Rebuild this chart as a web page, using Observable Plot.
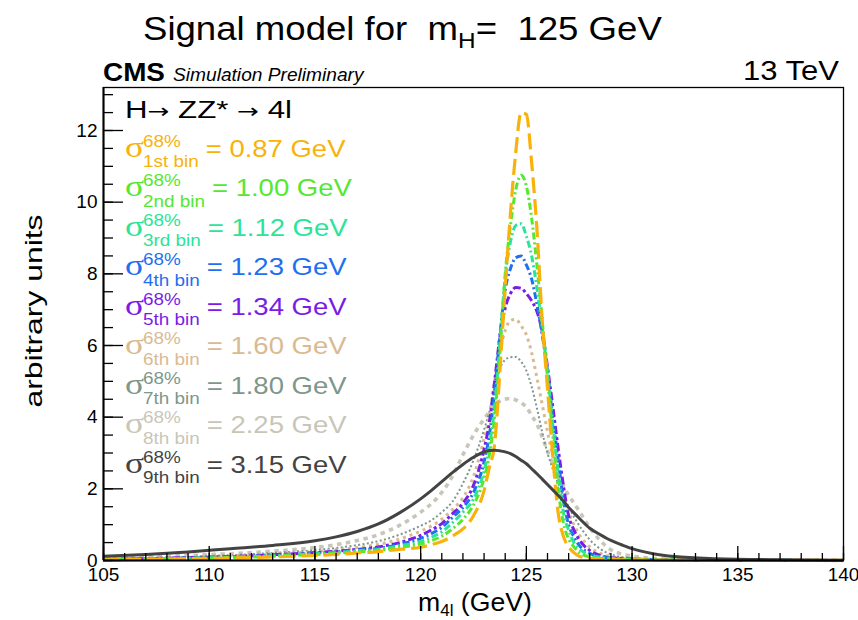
<!DOCTYPE html>
<html><head><meta charset="utf-8">
<script src="https://cdn.jsdelivr.net/npm/d3@7"></script>
<script src="https://cdn.jsdelivr.net/npm/@observablehq/plot@0.6"></script>
<style>
body{margin:0;background:#fff;}
text{white-space:pre;}
</style>
</head><body><div id="chart"></div>
<script>
// ---- data ----
const massGrid = [105, 107, 109, 111, 113, 115, 116, 117, 118, 119, 120, 120.5, 121, 121.5, 122, 122.5, 123, 123.25, 123.5, 123.75, 124, 124.25, 124.5, 124.75, 125, 125.25, 125.5, 125.75, 126, 126.25, 126.5, 126.75, 127, 127.25, 127.5, 128, 128.5, 129, 129.5, 130, 131, 132, 134, 137, 140];

const bin1 = [0.02,0.03,0.05,0.07,0.10, 0.14,0.17,0.21,0.25,0.31, 0.37,0.44,0.53,0.68,0.88, 1.25,1.95,2.60,3.25,5.30, 7.60,9.70,11.40,12.50,12.45, 11.10,9.25,6.70,4.80,2.90, 1.35,0.68,0.38,0.22,0.12, 0.06,0.04,0.03,0.02,0.02, 0.01,0.01,0.005,0.003,0.002];
const bin2 = [0.02,0.04,0.06,0.08,0.12, 0.17,0.20,0.24,0.28,0.36, 0.46,0.55,0.68,0.88,1.15, 1.55,2.30,2.95,4.00,5.80, 8.00,9.35,10.35,10.75,10.45, 9.55,8.25,6.70,5.10,3.50, 2.00,1.05,0.60,0.38,0.22, 0.10,0.06,0.04,0.03,0.02, 0.015,0.01,0.006,0.003,0.002];
const bin3 = [0.03,0.04,0.06,0.09,0.13, 0.19,0.22,0.27,0.31,0.41, 0.53,0.65,0.80,1.05,1.35, 1.72,2.50,3.20,4.30,6.10, 7.90,8.90,9.35,9.40,9.05, 8.50,7.60,6.50,5.25,3.80, 2.50,1.35,0.85,0.50,0.33, 0.16,0.09,0.06,0.04,0.03, 0.02,0.013,0.008,0.004,0.002];
const bin4 = [0.03,0.05,0.07,0.10,0.14, 0.20,0.24,0.29,0.34,0.45, 0.62,0.75,0.92,1.20,1.48, 1.90,2.75,3.50,4.70,6.30, 7.55,8.15,8.45,8.50,8.25, 7.85,7.15,6.30,5.30,4.00, 2.85,1.70,1.00,0.66,0.42, 0.20,0.11,0.07,0.05,0.035, 0.02,0.015,0.008,0.004,0.002];
const bin5 = [0.03,0.05,0.08,0.11,0.16, 0.22,0.26,0.31,0.38,0.50, 0.70,0.85,1.03,1.30,1.60, 2.10,3.10,3.85,5.00,6.25, 7.05,7.45,7.62,7.60,7.45, 7.25,6.95,6.40,5.40,4.30, 3.15,2.10,1.25,0.85,0.58, 0.28,0.14,0.08,0.055,0.04, 0.025,0.016,0.009,0.004,0.002];
const bin6 = [0.04,0.06,0.09,0.13,0.18, 0.25,0.30,0.36,0.45,0.60, 0.82,0.96,1.15,1.42,1.75, 2.35,3.40,4.05,5.00,5.85, 6.42,6.70,6.73,6.55,6.30, 5.80,5.10,4.35,3.60,2.90, 2.30,1.75,1.35,1.00,0.72, 0.38,0.20,0.11,0.07,0.05, 0.03,0.02,0.01,0.005,0.003];
const bin7 = [0.05,0.07,0.10,0.15,0.21, 0.29,0.35,0.43,0.54,0.72, 0.97,1.12,1.35,1.64,2.15, 2.80,3.65,4.15,4.80,5.35, 5.60,5.67,5.68,5.55,5.30, 4.85,4.25,3.58,3.00,2.55, 2.15,1.80,1.50,1.22,0.98, 0.58,0.32,0.17,0.10,0.07, 0.04,0.025,0.012,0.006,0.003];
const bin8 = [0.07,0.10,0.14,0.19,0.26, 0.36,0.44,0.56,0.72,0.98, 1.35,1.58,1.90,2.35,2.95, 3.50,3.95,4.15,4.35,4.45, 4.50,4.52,4.48,4.40,4.28, 4.05,3.80,3.45,3.05,2.70, 2.40,2.10,1.82,1.60,1.38, 0.92,0.55,0.30,0.18,0.12, 0.06,0.035,0.015,0.008,0.004];
const bin9 = [0.12,0.17,0.24,0.33,0.42, 0.55,0.66,0.81,1.02,1.33, 1.72,1.95,2.20,2.45,2.68, 2.88,3.03,3.07,3.08,3.06, 3.03,2.98,2.90,2.80,2.70, 2.56,2.42,2.27,2.12,1.97, 1.82,1.66,1.48,1.33,1.18, 0.90,0.72,0.56,0.44,0.33, 0.19,0.11,0.05,0.02,0.01];

const binNames = ["1st bin", "2nd bin", "3rd bin", "4th bin", "5th bin", "6th bin", "7th bin", "8th bin", "9th bin"];
const sigmaValues = ["0.87", "1.00", "1.12", "1.23", "1.34", "1.60", "1.80", "2.25", "3.15"];
const binColors = ["#F8B20A", "#55E82E", "#2AE597", "#1F6FF0", "#7A1CE6", "#D9BA92", "#7C978B", "#C8C6B8", "#434343"];
const binDashes = ["16,6", "7,3,2,3", "7,3,2,3", "7,3,2,3", "8,3,3,3", "3,4", "2,2.4", "4.5,4.5", null];
const binWidths = [3.2, 3, 3, 3, 3, 3, 2, 3.6, 3];
const xMajor = [105, 110, 115, 120, 125, 130, 135, 140];
const yMajor = [0, 2, 4, 6, 8, 10, 12];

const series = [bin1, bin2, bin3, bin4, bin5, bin6, bin7, bin8, bin9];
const rows = [];
series.forEach((s, b) => massGrid.forEach((m, j) => rows.push({bin: b, m, v: s[j]})));
const drawOrder = [7, 6, 5, 4, 3, 2, 1, 0, 8];

const W = 858, H = 620, ML = 103, MR = 15, MT = 87, MB = 60;
const FW = W - ML - MR, FH = H - MT - MB;
const xMinor = d3.range(105, 141, 1);
const yMinor = d3.range(0, 13.01, 0.5);

const chart = Plot.plot({
  width: W, height: H,
  marginLeft: ML, marginRight: MR, marginTop: MT, marginBottom: MB,
  style: {fontFamily: "'Liberation Sans', Arial, sans-serif", background: "#fff", overflow: "visible"},
  x: {domain: [105, 140], label: null},
  y: {domain: [0, 13.2], label: null},
  marks: [
    ...drawOrder.map(b => Plot.line(rows.filter(r => r.bin === b), {
      x: "m", y: "v", curve: "monotone-x",
      stroke: binColors[b], strokeWidth: binWidths[b],
      strokeDasharray: binDashes[b] || undefined,
      strokeLinecap: "butt"
    })),
    Plot.frame({stroke: "#000", strokeWidth: 1.3}),
    Plot.ruleX([105], {stroke: "#000", strokeWidth: 2}),
    Plot.ruleY([0], {stroke: "#000", strokeWidth: 2}),
    Plot.tickX(xMinor, {x: d => d, insetTop: FH - 7, stroke: "#000", strokeWidth: 1.3}),
    Plot.tickX(xMajor, {x: d => d, insetTop: FH - 14, stroke: "#000", strokeWidth: 1.3}),
    Plot.tickY(yMinor, {y: d => d, insetRight: FW - 10, stroke: "#000", strokeWidth: 1.3}),
    Plot.tickY(yMajor, {y: d => d, insetRight: FW - 20, stroke: "#000", strokeWidth: 1.3}),
    Plot.axisX({ticks: xMajor, tickSize: 0, tickPadding: 7, fontSize: 19, label: null, tickFormat: d => String(d)}),
    Plot.axisY({ticks: yMajor, tickSize: 0, tickPadding: 6, fontSize: 19, label: null, tickFormat: d => String(d)})
  ]
});
document.getElementById("chart").appendChild(chart);

// ---- texts ----
const svg = d3.select(chart);
const SANS = "'Liberation Sans', Arial, sans-serif";
const SERIF = "'Liberation Serif', 'Times New Roman', serif";

function fit(sel, x0, x1) {
  const w = sel.node().getBBox().width;
  const k = (x1 - x0) / w;
  sel.attr("transform", `translate(${x0},0) scale(${k},1) translate(${-x0},0)`);
}
function txt(parent, str, x, y, size, opts = {}) {
  const t = parent.append("text").attr("x", x).attr("y", y)
    .attr("text-anchor", "start")
    .attr("font-family", opts.family || SANS).attr("font-size", size)
    .attr("fill", opts.fill || "#000").text(str);
  if (opts.weight) t.attr("font-weight", opts.weight);
  if (opts.style) t.attr("font-style", opts.style);
  return t;
}

// Title
const title = svg.append("text").attr("x", 143).attr("y", 40).attr("text-anchor", "start")
  .attr("font-family", SANS).attr("font-size", 33).attr("fill", "#000");
title.append("tspan").text("Signal model for  m");
title.append("tspan").attr("font-size", 22).attr("dy", 8).text("H");
title.append("tspan").attr("dy", -8).text("=  125 GeV");
fit(title, 143, 662);

fit(txt(svg, "CMS", 103, 81, 25, {weight: "bold"}), 103, 165);
fit(txt(svg, "Simulation Preliminary", 173, 81, 17.5, {style: "italic"}), 173, 365);
fit(txt(svg, "13 TeV", 743, 80, 27), 743, 839);

const proc = svg.append("text").attr("x", 125).attr("y", 118).attr("text-anchor", "start")
  .attr("font-family", SANS).attr("font-size", 24).attr("fill", "#000");
proc.append("tspan").text("H");
proc.append("tspan").attr("font-family", "'DejaVu Sans', sans-serif").attr("font-size", 20).text("\u2192");
proc.append("tspan").text(" ZZ* ");
proc.append("tspan").attr("font-family", "'DejaVu Sans', sans-serif").attr("font-size", 20).text("\u2192");
proc.append("tspan").text(" 4l");
fit(proc, 125, 292);

// Legend
const lg = svg.append("g").attr("transform", "translate(125,0) scale(1.18,1)");
binNames.forEach((name, i) => {
  const yb = 157 + 39.5 * i;
  const c = binColors[i];
  txt(lg, "\u03C3", 0, yb, 30, {family: SERIF, fill: c});
  const sup = txt(lg, "68%", 15.3, yb - 10, 16, {fill: c});
  const sub = txt(lg, name, 15.3, yb + 10.5, 16, {fill: c});
  const w = Math.max(sup.node().getComputedTextLength(), sub.node().getComputedTextLength());
  txt(lg, `= ${sigmaValues[i]} GeV`, 15.3 + w + 6, yb, 23.3, {fill: c});
});

// Axis titles
svg.append("text").attr("transform", "translate(42,311) rotate(-90)")
  .attr("text-anchor", "middle").attr("font-family", SANS).attr("font-size", 24)
  .attr("textLength", 193).attr("lengthAdjust", "spacingAndGlyphs").text("arbitrary units");

const xl = svg.append("text").attr("x", 418).attr("y", 611).attr("text-anchor", "start")
  .attr("font-family", SANS).attr("font-size", 25).attr("fill", "#000");
xl.append("tspan").text("m");
xl.append("tspan").attr("font-size", 16).attr("dy", 5).text("4l");
xl.append("tspan").attr("dy", -5).text(" (GeV)");
fit(xl, 418, 532);
</script>
</body></html>
